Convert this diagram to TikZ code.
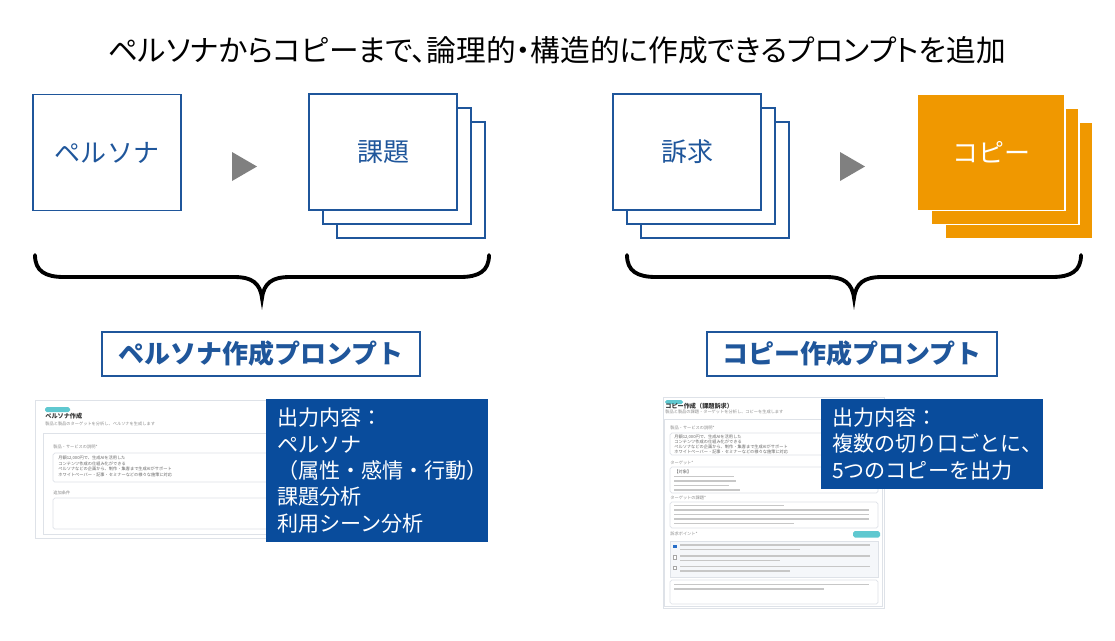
\documentclass[tikz,border=0pt]{standalone}
\usepackage{fontspec}
\setmainfont{Noto Sans CJK JP}
\newfontfamily\titlefont[RawFeature=+palt]{Noto Sans CJK JP}
\usetikzlibrary{positioning}
\definecolor{primary}{RGB}{31, 86, 155}
\definecolor{boxblue}{RGB}{9, 76, 156}
\definecolor{copyorange}{RGB}{240, 152, 0}
\definecolor{arrowgray}{RGB}{128, 128, 128}
\definecolor{tagteal}{RGB}{95, 200, 208}
\definecolor{shotline}{RGB}{222, 226, 232}
\definecolor{shotfill}{RGB}{245, 247, 250}
\definecolor{checkblue}{RGB}{40, 110, 200}

\begin{document}
\begin{tikzpicture}[x=0.02cm, y=-0.02cm,
  stage/.style={draw=primary, line width=1.1pt, fill=white, minimum width=2.96cm, minimum height=2.32cm, text=primary, font=\fontsize{14.8}{17}\selectfont},
  copystage/.style={stage, draw=white, fill=copyorange, text=white, line width=0.9pt},
  prompt/.style={draw=primary, line width=1.3pt, fill=white, text=primary, minimum height=0.88cm, font=\bfseries\fontsize{14.8}{17}\selectfont},
  outbox/.style={fill=boxblue, text=white, minimum width=4.44cm, text width=4.0cm, align=left, inner xsep=0.22cm, font=\fontsize{12}{15}\selectfont},
  brace/.style={line width=2.2pt, line cap=round},
  shotframe/.style={draw=shotline, line width=0.4pt, fill=white},
  shotlabel/.style={anchor=west, inner sep=0, text=black!45, font=\fontsize{2.4}{3}\selectfont},
  shottext/.style={anchor=west, inner sep=0, text=black!60, font=\fontsize{2.4}{3}\selectfont},
  shottitle/.style={anchor=west, inner sep=0, text=black!80, font=\bfseries\fontsize{3.5}{4}\selectfont},
  shotbar/.style={draw=black!22, line width=0.6pt}
]
\useasboundingbox[fill=white] (0,0) rectangle (1115,640);

% title
\node[font=\titlefont\fontsize{16.9}{19}\selectfont] (title) at (557,50) {ペルソナからコピーまで、論理的・構造的に作成できるプロンプトを追加};

% stages
\node[stage] (persona) at (107,152.5) {ペルソナ};
\node[stage] (kadai3) at (411,180) {};
\node[stage] (kadai2) at (397,166) {};
\node[stage] (kadai) at (383,152) {課題};
\node[stage] (sokyu3) at (715,180) {};
\node[stage] (sokyu2) at (701,166) {};
\node[stage] (sokyu) at (687,152) {訴求};
\node[copystage] (copy3) at (1019,180.5) {};
\node[copystage] (copy2) at (1005,166.5) {};
\node[copystage] (copy) at (991,152.5) {コピー};

% flow marks
\fill[arrowgray] (232,152) -- (257,166.5) -- (232,181) -- cycle;
\fill[arrowgray] (840,152) -- (865,166.5) -- (840,181) -- cycle;

% braces
\foreach \dx in {0,592}
  \draw[brace] (35+\dx,255) .. controls (35+\dx,271) and (45+\dx,277) .. (64+\dx,277) -- (234+\dx,277)
    .. controls (252+\dx,277) and (260+\dx,283) .. (262+\dx,298)
    .. controls (264+\dx,283) and (272+\dx,277) .. (290+\dx,277) -- (460+\dx,277)
    .. controls (479+\dx,277) and (489+\dx,271) .. (489+\dx,255);

% prompt labels
\node[prompt, minimum width=6.36cm] (pprompt) at (261,354) {ペルソナ作成プロンプト};
\node[prompt, minimum width=5.8cm] (cprompt) at (852,354) {コピー作成プロンプト};

% persona screenshot
\draw[shotframe] (35,400) rectangle (480,538);
\fill[tagteal, rounded corners=1pt] (45,407) rectangle (70,412);
\node[shottitle] (ptitle) at (45,416.5) {ペルソナ作成};
\node[shotlabel] (psub) at (45,423.5) {製品と製品のターゲットを分析し、ペルソナを生成します};
\draw[shotframe] (43,433) rectangle (478,534);
\node[shotlabel] (pdesc) at (53,447) {製品・サービスの説明*};
\draw[shotframe, rounded corners=1pt] (53,453) rectangle (470,482);
\node[shottext] (pline1) at (58,458) {月額12,000円で、生成AIを活用した};
\node[shottext] (pline2) at (58,463.5) {コンテンツ作成の仕組み化ができる};
\node[shottext] (pline3) at (58,469) {ペルソナなどの企画から、制作・集客まで生成AIがサポート};
\node[shottext] (pline4) at (58,474.5) {ホワイトペーパー・記事・セミナーなどの様々な施策に対応};
\node[shotlabel] (pextra) at (53,493) {追加条件};
\draw[shotframe, rounded corners=1pt] (53,498) rectangle (470,529);

% copy screenshot
\draw[shotframe] (663,397) rectangle (884,608);
\fill[tagteal, rounded corners=1pt] (665,400) rectangle (683,404);
\node[shottitle] (ctitle) at (665,406.5) {コピー作成（課題訴求）};
\node[shotlabel] (csub) at (665,411.5) {製品と製品の課題・ターゲットを分析し、コピーを生成します};
\draw[shotframe] (664,419) rectangle (882,606);
\node[shotlabel] (cdesc) at (670,428) {製品・サービスの説明*};
\draw[shotframe, rounded corners=1pt] (670,433) rectangle (878,455);
\node[shottext] (cline1) at (674,437) {月額12,000円で、生成AIを活用した};
\node[shottext] (cline2) at (674,442) {コンテンツ作成の仕組み化ができる};
\node[shottext] (cline3) at (674,447) {ペルソナなどの企画から、制作・集客まで生成AIがサポート};
\node[shottext] (cline4) at (674,452) {ホワイトペーパー・記事・セミナーなどの様々な施策に対応};
\node[shotlabel] (ctarget) at (670,463) {ターゲット*};
\draw[shotframe, rounded corners=1pt] (670,467) rectangle (878,493);
\node[shottext] (cobj) at (674,471.5) {【対象】};
\foreach \y/\len in {476.5/60, 481/62, 485.5/55, 490/66}
  \draw[shotbar] (674,\y) -- ++(\len,0);
\node[shotlabel] (cissue) at (670,498) {ターゲットの課題*};
\draw[shotframe, rounded corners=1pt] (670,502) rectangle (878,528);
\foreach \y/\len in {505.5/110, 510/195, 514.5/195, 519/195, 523.5/120}
  \draw[shotbar] (674,\y) -- ++(\len,0);
\node[shotlabel] (cpoint) at (670,534) {訴求ポイント*};
\fill[tagteal, rounded corners=1pt] (853,531) rectangle (880,537.5);
\draw[shotframe, fill=shotfill] (670,541) rectangle (878,577);
\fill[checkblue] (673,544.5) rectangle (676.5,548);
\draw[draw=black!35, line width=0.3pt, fill=white] (673,555.5) rectangle (676.5,559);
\draw[draw=black!35, line width=0.3pt, fill=white] (673,566) rectangle (676.5,569.5);
\foreach \y/\len in {545/190, 549.5/120, 556/190, 560.5/100, 566.5/190, 571/110}
  \draw[shotbar] (680,\y) -- ++(\len,0);
\draw[shotframe, rounded corners=1pt] (670,580) rectangle (878,604);
\foreach \y/\len in {584.5/195, 589/150}
  \draw[shotbar] (674,\y) -- ++(\len,0);

% output boxes
\node[outbox, minimum height=2.86cm] (pout) at (377,470.5) {出力内容：\\ペルソナ\\（属性・感情・行動）\\課題分析\\利用シーン分析};
\node[outbox, minimum height=1.8cm] (cout) at (932,444) {出力内容：\\複数の切り口ごとに、\\5つのコピーを出力};
\end{tikzpicture}
\end{document}
